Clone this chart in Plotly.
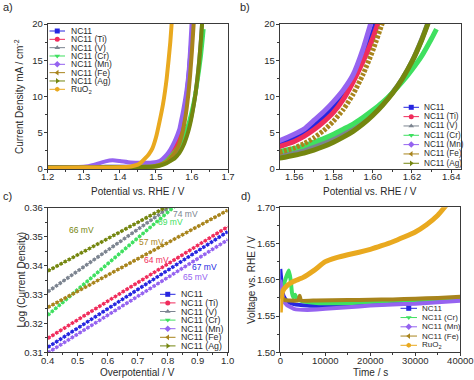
import plotly.graph_objects as go

W, H = 474, 380

# ---------------- data ----------------
NAMES = ["NC11", "NC11 (Ti)", "NC11 (V)", "NC11 (Cr)", "NC11 (Mn)", "NC11 (Fe)", "NC11 (Ag)", "RuO<sub>2</sub>"]
COLORS = ["#2626e0", "#f02c5c", "#7c8490", "#3fe060", "#9563f0", "#a8841c", "#74860f", "#e9a91f"]
SYMBOLS = ["square", "circle", "triangle-up", "triangle-down", "diamond", "triangle-left", "triangle-right", "hexagon"]

# (a)/(b) LSV: potential vs RHE (V) and current density (mA/cm2)
E_LSV = [1.20, 1.25, 1.30, 1.33, 1.36, 1.38, 1.40, 1.43, 1.46, 1.49, 1.51, 1.53, 1.54, 1.5525,
         1.56, 1.565, 1.57, 1.575, 1.58, 1.585, 1.59, 1.595, 1.60, 1.605,
         1.61, 1.615, 1.62, 1.625, 1.63, 1.6325]
J_NC11 = [0.2, 0.2, 0.22, 0.25, 0.3, 0.3, 0.3, 0.3, 0.35, 0.5, 0.8, 1.6, 2.4, 3.5,
          4.3, 5.0, 6.0, 7.1, 8.5, 10.2, 12.6, 15.6, 18.8, 23.0,
          None, None, None, None, None, None]
J_TI = [0.2, 0.2, 0.2, 0.22, 0.25, 0.25, 0.25, 0.28, 0.32, 0.45, 0.7, 1.4, 2.1, 3.1,
        3.8, 4.5, 5.4, 6.5, 7.8, 9.6, 12.0, 14.8, 18.0, 22.0,
        None, None, None, None, None, None]
J_V = [0.2, 0.2, 0.2, 0.22, 0.25, 0.25, 0.25, 0.26, 0.3, 0.35, 0.5, 1.0, 1.35, 1.9,
       2.3, 2.7, 3.1, 3.6, 4.2, 4.85, 5.6, 6.5, 7.6, 8.9,
       10.5, 12.4, 14.8, 17.9, 21.5, None]
J_CR = [0.2, 0.2, 0.2, 0.22, 0.25, 0.25, 0.26, 0.28, 0.32, 0.4, 0.65, 1.2, 1.7, 2.4,
        2.85, 3.2, 3.7, 4.2, 4.8, 5.5, 6.2, 7.1, 8.1, 9.2,
        10.5, 12.0, 13.7, 15.6, 18.0, 19.3]
J_MN = [0.25, 0.25, 0.3, 0.6, 1.05, 1.2, 1.1, 0.9, 0.85, 0.9, 1.1, 2.0, 2.7, 3.9,
        4.8, 5.5, 6.7, 7.9, 9.3, 10.9, 13.0, 16.5, 21.0, None,
        None, None, None, None, None, None]
J_FE = [0.2, 0.2, 0.2, 0.22, 0.25, 0.25, 0.25, 0.27, 0.3, 0.35, 0.55, 1.0, 1.5, 2.3,
        2.9, 3.5, 4.3, 5.3, 6.6, 8.2, 10.3, 13.0, 16.3, 20.2,
        24.0, None, None, None, None, None]
J_AG = [0.2, 0.2, 0.2, 0.22, 0.25, 0.25, 0.25, 0.26, 0.28, 0.3, 0.45, 0.8, 1.1, 1.5,
        1.9, 2.2, 2.6, 3.1, 3.7, 4.4, 5.2, 6.2, 7.4, 8.8,
        10.4, 12.4, 14.8, 17.8, 21.4, None]
E_RUO2 = [1.20, 1.30, 1.40, 1.43, 1.45, 1.46, 1.47, 1.48, 1.49, 1.50, 1.51, 1.52, 1.53, 1.54, 1.545, 1.55]
J_RUO2 = [0.15, 0.2, 0.25, 0.35, 0.6, 0.95, 1.45, 2.0, 2.8, 4.3, 6.5, 9.0, 12.5, 17.5, 21.0, 25.0]

# (c) Tafel-like: overpotential (V) vs log(current density)
ETA = [0.4, 0.5, 0.6, 0.7, 0.8, 0.9, 1.0]
L_NC11 = [0.3117, 0.3184, 0.3250, 0.3317, 0.3384, 0.3450, 0.3517]
L_TI = [0.3148, 0.3212, 0.3276, 0.3340, 0.3404, 0.3468, 0.3534]
L_V = [0.3309, 0.3381, 0.3453, 0.3525, 0.3597, 0.3669, 0.3741]
L_CR = [0.3228, 0.3317, 0.3406, 0.3495, 0.3584, 0.3673, 0.3762]
L_MN = [0.3098, 0.3163, 0.3228, 0.3293, 0.3358, 0.3423, 0.3489]
L_FE = [0.3255, 0.3311, 0.3367, 0.3423, 0.3479, 0.3535, 0.3591]
L_AG = [0.3381, 0.3437, 0.3493, 0.3549, 0.3605, 0.3661, 0.3717]
SLOPE_LABELS = ["67 mV", "64 mV", "74 mV", "89 mV", "65 mV", "57 mV", "66 mV"]
SLOPE_X = [0.921, 0.763, 0.859, 0.808, 0.894, 0.746, 0.513]
SLOPE_Y = [0.3395, 0.3418, 0.3578, 0.3549, 0.3361, 0.3482, 0.3524]

# (d) chronopotentiometry: time (s) vs voltage (V vs RHE)
T_NC11 = [0, 300, 700, 1500, 3000, 6000, 10000, 15000, 20000, 25000, 30000, 35000, 40000]
U_NC11 = [1.615, 1.595, 1.578, 1.570, 1.5665, 1.5645, 1.564, 1.5645, 1.5655, 1.567, 1.569, 1.571, 1.573]
T_CR = [0, 500, 1000, 1500, 1900, 2300, 2600, 2900, 3300, 3700, 5000, 8000, 12000, 16000, 20000,
        25000, 30000, 35000, 40000]
U_CR = [1.578, 1.586, 1.598, 1.607, 1.613, 1.600, 1.582, 1.576, 1.5795, 1.573, 1.5705, 1.568, 1.5675,
        1.568, 1.5695, 1.571, 1.572, 1.573, 1.5745]
T_MN = [0, 300, 700, 1500, 3000, 6000, 10000, 15000, 20000, 25000, 30000, 35000, 40000]
U_MN = [1.600, 1.585, 1.572, 1.565, 1.560, 1.5585, 1.560, 1.562, 1.5645, 1.566, 1.567, 1.569, 1.571]
T_FE = [0, 1000, 2000, 4000, 4300, 4600, 8000, 15000, 20000, 25000, 30000, 35000, 40000]
U_FE = [1.578, 1.572, 1.5715, 1.5715, 1.578, 1.5715, 1.5715, 1.572, 1.5725, 1.573, 1.574, 1.575, 1.5765]
T_RUO2 = [0, 200, 600, 1500, 3000, 5000, 7500, 10000, 12500, 15000, 17500, 20000, 22500, 25000,
          27500, 30000, 32500, 35000, 36500, 37500]
U_RUO2 = [1.555, 1.575, 1.585, 1.592, 1.598, 1.603, 1.613, 1.625, 1.6305, 1.6345, 1.638, 1.642, 1.647,
          1.6525, 1.659, 1.666, 1.676, 1.689, 1.700, 1.708]

FONT = "Liberation Sans, Arial, sans-serif"
TXT = "#2a2a2a"

fig = go.Figure()

def px_x(p):
    return p / W

def px_y(p):
    return 1 - p / H

# ---------------- panel a & b ----------------
lsv = [J_NC11, J_TI, J_V, J_CR, J_MN, J_FE, J_AG]
for i, J in enumerate(lsv):
    fig.add_trace(go.Scatter(x=E_LSV, y=J, mode="lines", xaxis="x", yaxis="y",
                             line=dict(color=COLORS[i], width=4, shape="spline", smoothing=0.5),
                             showlegend=False, hoverinfo="skip"))
fig.add_trace(go.Scatter(x=E_RUO2, y=J_RUO2, mode="lines", xaxis="x", yaxis="y",
                         line=dict(color=COLORS[7], width=4, shape="spline", smoothing=0.5),
                         showlegend=False, hoverinfo="skip"))
for i, J in enumerate(lsv):
    dash = "3px,1.5px" if i == 5 else "solid"
    fig.add_trace(go.Scatter(x=E_LSV, y=J, mode="lines", xaxis="x2", yaxis="y2",
                             line=dict(color=COLORS[i], width=5, shape="spline", smoothing=0.5, dash=dash),
                             showlegend=False, hoverinfo="skip"))

# ---------------- panel c ----------------
tafel = [L_NC11, L_TI, L_V, L_CR, L_MN, L_FE, L_AG]
for i, L in enumerate(tafel):
    fig.add_trace(go.Scatter(x=ETA, y=L, mode="lines", xaxis="x3", yaxis="y3",
                             line=dict(color=COLORS[i], width=1),
                             showlegend=False, hoverinfo="skip"))
    fig.add_trace(go.Scatter(x=ETA, y=L, mode="lines", xaxis="x3", yaxis="y3",
                             line=dict(color=COLORS[i], width=3.5, dash="3px,1.6px"),
                             showlegend=False, hoverinfo="skip"))

# ---------------- panel d ----------------
stab = [(T_NC11, U_NC11, 0), (T_CR, U_CR, 3), (T_MN, U_MN, 4), (T_FE, U_FE, 5), (T_RUO2, U_RUO2, 7)]
for T, U, ci in stab:
    fig.add_trace(go.Scatter(x=T, y=U, mode="lines", xaxis="x4", yaxis="y4",
                             line=dict(color=COLORS[ci], width=5 if ci == 7 else 4, shape="spline", smoothing=0.4),
                             showlegend=False, hoverinfo="skip"))

# ---------------- manual legends (pixel overlay axes) ----------------
annotations = []

def ann(x, y, text, size=8.5, color=TXT, xanchor="left", angle=0, ref=("x5", "y5")):
    annotations.append(dict(x=x, y=y, xref=ref[0], yref=ref[1], text=text, showarrow=False,
                            xanchor=xanchor, yanchor="middle", textangle=angle,
                            font=dict(family=FONT, size=size, color=color)))

def legend(idx, x0, x1, xt, y0, dy, size=8.5):
    for k, ci in enumerate(idx):
        y = y0 + k * dy
        xm = (x0 + x1) / 2
        fig.add_trace(go.Scatter(x=[x0, x1], y=[y, y], mode="lines",
                                 xaxis="x5", yaxis="y5",
                                 line=dict(color=COLORS[ci], width=1),
                                 showlegend=False, hoverinfo="skip"))
        fig.add_trace(go.Scatter(x=[xm], y=[y], mode="markers",
                                 xaxis="x5", yaxis="y5",
                                 marker=dict(symbol=SYMBOLS[ci], size=5, color=COLORS[ci]),
                                 showlegend=False, hoverinfo="skip"))
        ann(xt, y, NAMES[ci], size=size)

legend([0, 1, 2, 3, 4, 5, 6, 7], 49.5, 65, 69, 31, 8.33, size=8.5)
legend([0, 1, 2, 3, 4, 5, 6], 403.5, 419, 422, 107.3, 9.33, size=8.2)
legend([0, 1, 2, 3, 4, 5, 6], 160, 175.5, 178.5, 294.3, 8.6, size=8.8)
legend([0, 3, 4, 5, 7], 400.5, 417, 420, 308.3, 9.25, size=8.0)

# slope labels in panel c
for lab, sx, sy, ci in zip(SLOPE_LABELS, SLOPE_X, SLOPE_Y, range(7)):
    ann(sx, sy, lab, size=8.5, color=COLORS[ci], xanchor="center", ref=("x3", "y3"))

# axis titles and panel labels
ann(137.8, 191, "Potential vs. RHE / V", size=10, xanchor="center")
ann(370.3, 191, "Potential vs. RHE / V", size=10, xanchor="center")
ann(137.7, 372.5, "Overpotential / V", size=10, xanchor="center")
ann(370.3, 372.5, "Time / s", size=10, xanchor="center")
ann(18.5, 96.5, "Current Density mA / cm<sup>-2</sup>", size=10, xanchor="center", angle=-90)
ann(20.5, 280, "Log (Current Density)", size=10, xanchor="center", angle=-90)
ann(251, 280, "Voltage vs. RHE / V", size=10, xanchor="center", angle=-90)
ann(1, 7, "a)", size=11)
ann(238, 7, "b)", size=11)
ann(1, 195.5, "c)", size=11)
ann(239, 195.5, "d)", size=11)

# ---------------- axes ----------------
def axis(domain, rng, dtick, minor, fmt, anchor, standoff):
    return dict(domain=domain, range=rng, dtick=dtick, tick0=0, tickformat=fmt, anchor=anchor,
                automargin=False, ticklabelstandoff=standoff,
                showline=True, linecolor="#3a3a3a", linewidth=1, mirror=True,
                ticks="outside", ticklen=3, tickwidth=1, tickcolor="#3a3a3a",
                minor=dict(ticks="outside", ticklen=2, dtick=minor, tickcolor="#3a3a3a", showgrid=False),
                showgrid=False, zeroline=False, fixedrange=True,
                tickfont=dict(family=FONT, size=9.5, color=TXT))

xa_dom = [px_x(47.7), px_x(228)]
xb_dom = [px_x(279.7), px_x(461)]
xc_dom = [px_x(47.7), px_x(227.7)]
xd_dom = [px_x(280.3), px_x(460.3)]
ytop_dom = [px_y(169), px_y(24)]
yc_dom = [px_y(352.3), px_y(207.7)]
yd_dom = [px_y(352.3), px_y(207.3)]

XS, YS = -4, -1
fig.update_layout(
    template="none",
    width=W, height=H, margin=dict(l=0, r=0, t=0, b=0, pad=0, autoexpand=False),
    paper_bgcolor="white", plot_bgcolor="rgba(0,0,0,0)",
    showlegend=False,
    xaxis=axis(xa_dom, [1.2, 1.7], 0.1, 0.05, ".1f", "y", XS),
    yaxis=axis(ytop_dom, [0, 20], 5, 2.5, "d", "x", YS),
    xaxis2=axis(xb_dom, [1.5526, 1.645], 0.02, 0.01, ".2f", "y2", XS),
    yaxis2=axis(ytop_dom, [0, 20], 5, 2.5, "d", "x2", YS),
    xaxis3=axis(xc_dom, [0.4, 1.0], 0.1, 0.05, ".1f", "y3", XS),
    yaxis3=axis(yc_dom, [0.31, 0.36], 0.01, 0.005, ".2f", "x3", YS),
    xaxis4=axis(xd_dom, [0, 40000], 10000, 5000, "d", "y4", XS),
    yaxis4=axis(yd_dom, [1.50, 1.70], 0.05, 0.025, ".2f", "x4", YS),
    xaxis5=dict(domain=[0, 1], range=[0, W], visible=False, fixedrange=True, anchor="y5", automargin=False),
    yaxis5=dict(domain=[0, 1], range=[H, 0], visible=False, fixedrange=True, anchor="x5", automargin=False),
    annotations=annotations,
    font=dict(family=FONT, color=TXT),
)

fig.write_html("out.html", config={"staticPlot": True},
               post_script="document.body.style.margin='0';document.body.style.overflow='hidden';")
